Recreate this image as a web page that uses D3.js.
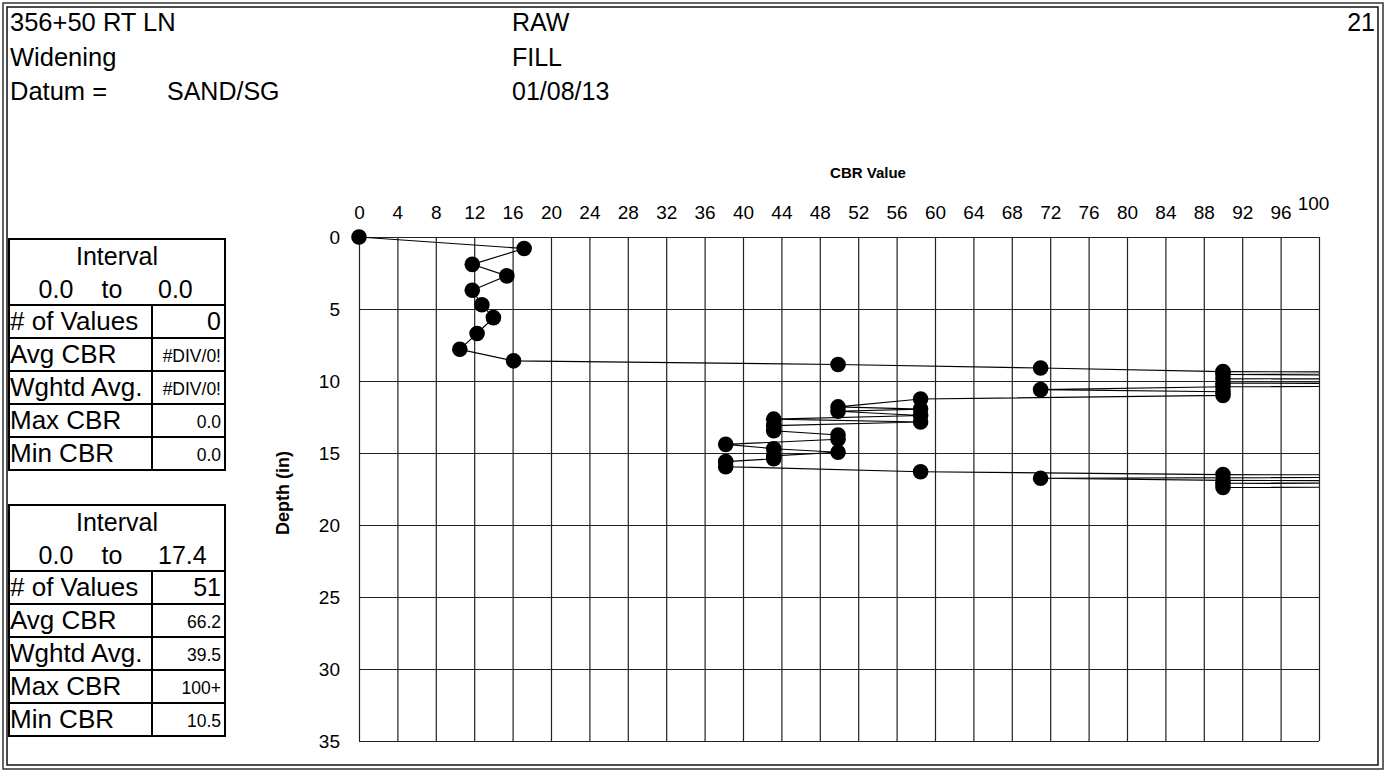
<!DOCTYPE html>
<html>
<head>
<meta charset="utf-8">
<script src="https://cdn.jsdelivr.net/npm/d3@7"></script>
<style>
  html, body { margin: 0; padding: 0; background: #fff; }
  svg { display: block; font-family: "Liberation Sans", Arial, sans-serif; }
</style>
</head>
<body>
<svg id="chart" width="1387" height="773"></svg>
<script>
// ---- data ----
const cbrValues = [
  0.0, 17.2, 11.8, 15.4, 11.8, 12.8, 14.0, 12.3, 10.5, 16.1,
  49.9, 71.0,
  90.0, 155, 90.0, 155, 90.0, 155, 90.0, 155, 90.0, 71.0, 90.0, 90.0,
  58.5, 49.9, 58.5, 49.9, 58.5, 43.2, 58.5, 43.2, 43.2, 49.9, 49.9, 38.2,
  43.2, 49.9, 43.2, 43.2, 38.2, 38.2, 58.5,
  90.0, 155, 71.0, 90.0, 155, 90.0, 155, 90.0
];
const depthValues = [
  0.0, 0.8, 1.9, 2.7, 3.7, 4.7, 5.6, 6.7, 7.8, 8.6,
  8.85, 9.1,
  9.35, 9.45, 9.55, 9.7, 9.85, 10.0, 10.15, 10.3, 10.4, 10.6, 10.75, 11.0,
  11.25, 11.8, 11.95, 12.1, 12.4, 12.65, 12.85, 13.1, 13.45, 13.75, 14.05, 14.4,
  14.7, 14.95, 15.2, 15.4, 15.6, 15.95, 16.3,
  16.5, 16.6, 16.75, 16.9, 17.0, 17.1, 17.25, 17.4
];
const xTickValues = [0,4,8,12,16,20,24,28,32,36,40,44,48,52,56,60,64,68,72,76,80,84,88,92,96,100];
const yTickValues = [0,5,10,15,20,25,30,35];

const headerLeft = ["356+50 RT LN", "Widening", "Datum ="];
const headerMid = ["RAW", "FILL", "01/08/13"];
const datumValue = "SAND/SG";
const pageNumber = "21";

const tableLabels = ["# of Values", "Avg CBR", "Wghtd Avg.", "Max CBR", "Min CBR"];
const table1Interval = ["0.0", "to", "0.0"];
const table1Values = ["0", "#DIV/0!", "#DIV/0!", "0.0", "0.0"];
const table2Interval = ["0.0", "to", "17.4"];
const table2Values = ["51", "66.2", "39.5", "100+", "10.5"];

// ---- drawing ----
const svg = d3.select("#chart");

// frame (double border)
svg.append("rect").attr("x", 3).attr("y", 3).attr("width", 1380).attr("height", 766)
  .attr("fill", "none").attr("stroke", "#333").attr("stroke-width", 1.5);
svg.append("rect").attr("x", 7).attr("y", 7).attr("width", 1371).attr("height", 758)
  .attr("fill", "none").attr("stroke", "#111").attr("stroke-width", 1.5);

// header
const hdrBase = [31, 66, 100];
headerLeft.forEach((t, i) => {
  svg.append("text").attr("x", 10).attr("y", hdrBase[i]).attr("font-size", 25.5).text(t);
});
svg.append("text").attr("x", 167).attr("y", hdrBase[2]).attr("font-size", 25).text(datumValue);
headerMid.forEach((t, i) => {
  svg.append("text").attr("x", 512).attr("y", hdrBase[i]).attr("font-size", 25).text(t);
});
svg.append("text").attr("x", 1375).attr("y", hdrBase[0]).attr("font-size", 25)
  .attr("text-anchor", "end").text(pageNumber);

// scales
const x = d3.scaleLinear().domain([0, 100]).range([359, 1319]);
const y = d3.scaleLinear().domain([0, 35]).range([237, 741]);
const plotW = x(100) - x(0), plotH = y(35) - y(0);

// grid + axes
const gx = svg.append("g").attr("transform", `translate(0,${y(0)})`)
  .call(d3.axisTop(x).tickValues(xTickValues).tickSize(-plotH).tickPadding(18).tickFormat(d3.format("d")));
gx.select(".domain").remove();
gx.selectAll(".tick line").attr("stroke", "#222").attr("stroke-width", 1.2);
gx.selectAll(".tick text").attr("font-size", 19).attr("fill", "#000")
  .attr("font-family", "Liberation Sans, Arial, sans-serif");
gx.selectAll(".tick").filter(d => d === 100).select("text").attr("dx", -6).attr("y", -27);

const gy = svg.append("g").attr("transform", `translate(${x(0)},0)`)
  .call(d3.axisLeft(y).tickValues(yTickValues).tickSize(-plotW).tickPadding(19));
gy.select(".domain").remove();
gy.selectAll(".tick line").attr("stroke", "#222").attr("stroke-width", 1.2);
gy.selectAll(".tick text").attr("font-size", 19).attr("fill", "#000")
  .attr("font-family", "Liberation Sans, Arial, sans-serif");

// axis titles
svg.append("text").attr("x", 868).attr("y", 178).attr("text-anchor", "middle")
  .attr("font-size", 15).attr("font-weight", "bold").text("CBR Value");
svg.append("text").attr("transform", "translate(289,493) rotate(-90)").attr("text-anchor", "middle")
  .attr("font-size", 18).attr("font-weight", "bold").text("Depth (in)");

// clip for data
svg.append("defs").append("clipPath").attr("id", "plotclip")
  .append("rect").attr("x", x(0) - 20).attr("y", y(0) - 20)
  .attr("width", plotW + 20).attr("height", plotH + 40);

const pts = cbrValues.map((v, i) => ({ v, d: depthValues[i] }));
const dataG = svg.append("g").attr("clip-path", "url(#plotclip)");
dataG.append("path").datum(pts)
  .attr("d", d3.line().x(p => x(p.v)).y(p => y(p.d)))
  .attr("fill", "none").attr("stroke", "#000").attr("stroke-width", 1.1);
dataG.selectAll("circle").data(pts).join("circle")
  .attr("cx", p => x(p.v)).attr("cy", p => y(p.d)).attr("r", 7.8).attr("fill", "#000");

// tables
function drawTable(top, interval, values) {
  const left = 9, right = 225, div = 152;
  const hdrH = 66, rowH = 33;
  const g = svg.append("g");
  const bottom = top + hdrH + rowH * 5;
  g.append("rect").attr("x", left).attr("y", top).attr("width", right - left).attr("height", bottom - top)
    .attr("fill", "#fff").attr("stroke", "#000").attr("stroke-width", 2);
  g.append("text").attr("x", (left + right) / 2).attr("y", top + 26).attr("text-anchor", "middle")
    .attr("font-size", 25).text("Interval");
  g.append("text").attr("x", 56).attr("y", top + 59).attr("text-anchor", "middle").attr("font-size", 25).text(interval[0]);
  g.append("text").attr("x", 112).attr("y", top + 59).attr("text-anchor", "middle").attr("font-size", 25).text(interval[1]);
  g.append("text").attr("x", 158).attr("y", top + 59).attr("font-size", 25).text(interval[2]);
  const rowsTop = top + hdrH;
  g.append("line").attr("x1", div).attr("x2", div).attr("y1", rowsTop).attr("y2", bottom)
    .attr("stroke", "#000").attr("stroke-width", 2);
  tableLabels.forEach((lab, i) => {
    const ry = rowsTop + rowH * i;
    g.append("line").attr("x1", left).attr("x2", right).attr("y1", ry).attr("y2", ry)
      .attr("stroke", "#000").attr("stroke-width", 2);
    g.append("text").attr("x", left + 1).attr("y", ry + 25).attr("font-size", 26).text(lab);
    const big = i === 0;
    g.append("text").attr("x", right - 4).attr("y", ry + (big ? 25 : 24)).attr("text-anchor", "end")
      .attr("font-size", big ? 25 : 17.5).text(values[i]);
  });
}
drawTable(239, table1Interval, table1Values);
drawTable(505, table2Interval, table2Values);
</script>
</body>
</html>
